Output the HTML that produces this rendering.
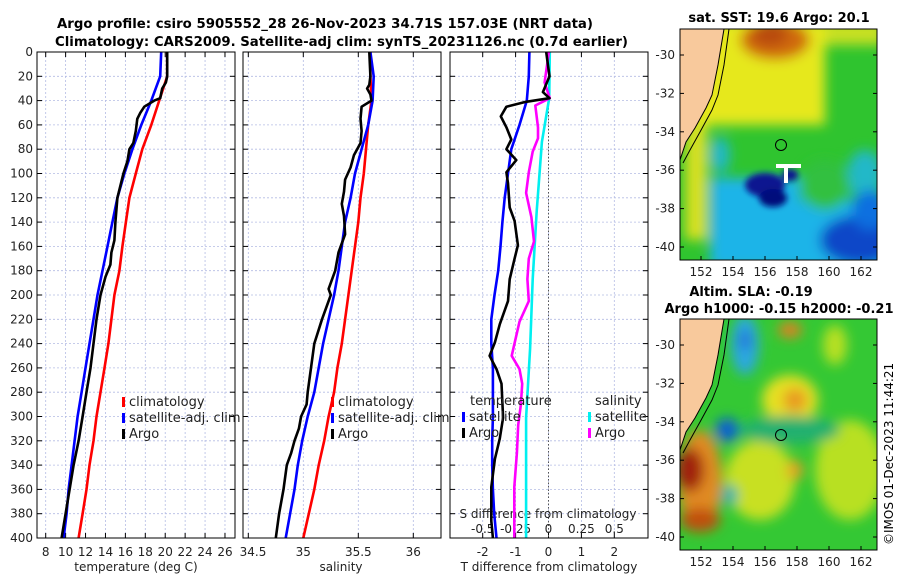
<!DOCTYPE html>
<html><head><meta charset="utf-8"><style>
html,body{margin:0;padding:0;background:#fff;}
svg{display:block;font-family:"DejaVu Sans","Liberation Sans",sans-serif;}
</style></head><body>
<svg id="fig" width="900" height="580" viewBox="0 0 900 580" xmlns="http://www.w3.org/2000/svg">
<defs>
<filter id="bl" x="-20%" y="-20%" width="140%" height="140%"><feGaussianBlur stdDeviation="6"/></filter>
<filter id="bl2" x="-20%" y="-20%" width="140%" height="140%"><feGaussianBlur stdDeviation="3"/></filter>
<clipPath id="cm1"><rect x="680" y="29" width="197" height="231"/></clipPath>
<clipPath id="cm2"><rect x="680" y="319" width="197" height="231"/></clipPath>
</defs>
<text x="57" y="28" font-size="13" font-weight="bold" textLength="536" lengthAdjust="spacingAndGlyphs">Argo profile: csiro 5905552_28 26-Nov-2023 34.71S 157.03E (NRT data)</text>
<text x="55" y="46" font-size="13" font-weight="bold" textLength="573" lengthAdjust="spacingAndGlyphs">Climatology: CARS2009. Satellite-adj clim: synTS_20231126.nc (0.7d earlier)</text>
<g id="panels"></g>

<!-- SST map -->
<g>
<text x="779" y="22" font-size="13" font-weight="bold" text-anchor="middle">sat. SST: 19.6 Argo: 20.1</text>
<g clip-path="url(#cm1)">
<rect x="680" y="29" width="197" height="231" fill="#2fc42f"/>
<g filter="url(#bl)">
<rect x="690" y="20" width="135" height="105" fill="#e6e81a"/>
<rect x="825" y="20" width="60" height="25" fill="#c8e020"/>
<ellipse cx="775" cy="40" rx="35" ry="20" fill="#d06a10"/>
<ellipse cx="770" cy="35" rx="18" ry="11" fill="#b84a08"/>
<rect x="685" y="125" width="22" height="115" fill="#d8e020"/>
<rect x="710" y="178" width="90" height="90" fill="#1ab4e8"/>
<rect x="800" y="200" width="90" height="70" fill="#1ab4e8"/>
<ellipse cx="865" cy="175" rx="18" ry="25" fill="#20b8c8"/>
<ellipse cx="860" cy="240" rx="40" ry="25" fill="#0a46c8"/>
<ellipse cx="870" cy="210" rx="18" ry="20" fill="#1070e0"/>
<ellipse cx="720" cy="155" rx="10" ry="18" fill="#20b8c8"/>
<ellipse cx="825" cy="185" rx="25" ry="25" fill="#30c040"/>
</g>
<g filter="url(#bl2)">
<ellipse cx="765" cy="185" rx="20" ry="12" fill="#081890"/>
<ellipse cx="773" cy="198" rx="14" ry="9" fill="#06107c"/>
<ellipse cx="790" cy="175" rx="8" ry="6" fill="#081890"/>
</g>
<rect x="776" y="164" width="25" height="4" fill="#fff"/>
<rect x="784" y="164" width="4" height="19" fill="#fff"/>
<polygon points="680,29 724,29 718,65 712,95 706,108 695,128 686,142 680,160" fill="#f8c99c"/>
<polyline points="724,29 718,65 712,95 706,108 695,128 686,142 680,160" fill="none" stroke="#000" stroke-width="1"/>
<polyline points="729,29 724,65 718,95 712,110 700,132 690,150 683,163" fill="none" stroke="#000" stroke-width="1"/>
<circle cx="781" cy="145" r="5.5" fill="none" stroke="#000" stroke-width="1"/>
</g>
<rect x="680" y="29" width="197" height="231" fill="none" stroke="#000"/>
<g id="m1ticks"></g>
</g>

<!-- SLA map -->
<g>
<text x="751" y="296" font-size="13" font-weight="bold" text-anchor="middle">Altim. SLA: -0.19</text>
<text x="779" y="313" font-size="13" font-weight="bold" text-anchor="middle">Argo h1000: -0.15 h2000: -0.21</text>
<g clip-path="url(#cm2)">
<rect x="680" y="319" width="197" height="231" fill="#34c834"/>
<g filter="url(#bl)">
<ellipse cx="790" cy="400" rx="28" ry="25" fill="#e6e020"/>
<ellipse cx="795" cy="400" rx="12" ry="12" fill="#e89a20"/>
<ellipse cx="850" cy="470" rx="35" ry="50" fill="#b8e020"/>
<ellipse cx="760" cy="480" rx="35" ry="40" fill="#c8e020"/>
<ellipse cx="700" cy="480" rx="22" ry="50" fill="#e08a20"/>
<ellipse cx="690" cy="470" rx="14" ry="22" fill="#a02010"/>
<ellipse cx="700" cy="520" rx="20" ry="12" fill="#c05010"/>
<ellipse cx="745" cy="345" rx="14" ry="30" fill="#2aa8e0"/>
<ellipse cx="745" cy="340" rx="6" ry="10" fill="#2070d8"/>
<ellipse cx="727" cy="430" rx="12" ry="12" fill="#1060d0"/>
<ellipse cx="730" cy="495" rx="8" ry="10" fill="#20b0b0"/>
<ellipse cx="790" cy="430" rx="50" ry="14" fill="#20b070"/>
<ellipse cx="790" cy="330" rx="12" ry="8" fill="#e08020"/>
<ellipse cx="835" cy="345" rx="12" ry="20" fill="#b8e020"/>
<ellipse cx="795" cy="470" rx="8" ry="10" fill="#e8a020"/>
</g>
<polygon points="680,319 724,319 718,355 712,385 706,398 695,418 686,432 680,450" fill="#f8c99c"/>
<polyline points="724,319 718,355 712,385 706,398 695,418 686,432 680,450" fill="none" stroke="#000" stroke-width="1"/>
<polyline points="729,319 724,355 718,385 712,400 700,422 690,440 683,453" fill="none" stroke="#000" stroke-width="1"/>
<circle cx="781" cy="435" r="5.5" fill="none" stroke="#000" stroke-width="1"/>
</g>
<rect x="680" y="319" width="197" height="231" fill="none" stroke="#000"/>
<g id="m2ticks"></g>
</g>
<text x="0" y="0" font-size="12" transform="translate(893,545) rotate(-90)">©IMOS 01-Dec-2023 11:44:21</text>
</svg>
<script>
// ---------- data ----------
const tempDepth = [0,20,40,60,80,100,120,140,160,180,200,220,240,260,280,300,320,340,360,380,400];
const tempClim  = [20.2,20.2,19.4,18.6,17.7,17.05,16.4,16.05,15.7,15.4,14.9,14.6,14.3,13.9,13.5,13.1,12.8,12.4,12.1,11.7,11.3];
const tempSat   = [19.6,19.5,18.6,17.6,16.7,15.9,15.2,14.7,14.2,13.7,13.2,12.8,12.4,12.0,11.6,11.2,10.9,10.6,10.3,10.1,9.8];
const argoTDepth = [0,20,25,30,38,40,45,50,55,65,75,80,90,100,110,120,140,155,165,175,185,200,220,240,260,280,300,320,340,360,380,400];
const argoTemp   = [20.2,20.2,20.07,19.7,19.5,18.9,17.9,17.5,17.2,17.05,16.8,16.4,16.2,15.8,15.5,15.2,15.0,14.9,14.6,14.5,14.0,13.5,13.1,12.8,12.5,12.1,11.7,11.3,10.8,10.4,10.0,9.6];

const salDepth = [0,20,40,60,80,100,120,140,160,180,200,220,240,260,280,300,320,340,360,380,400];
const salClim  = [35.61,35.61,35.62,35.59,35.57,35.55,35.52,35.50,35.47,35.44,35.41,35.38,35.35,35.31,35.28,35.23,35.19,35.14,35.10,35.05,35.00];
const salSat   = [35.61,35.64,35.63,35.59,35.53,35.47,35.43,35.38,35.35,35.32,35.28,35.23,35.18,35.14,35.10,35.04,34.99,34.95,34.92,34.88,34.84];
const argoSDepth = [0,20,27,30,35,40,45,55,65,75,85,95,105,115,125,135,150,165,180,195,200,220,240,260,280,290,300,310,320,330,340,360,380,400];
const argoSal    = [35.60,35.61,35.60,35.58,35.61,35.62,35.53,35.52,35.53,35.52,35.46,35.43,35.38,35.37,35.35,35.37,35.38,35.32,35.29,35.23,35.25,35.17,35.10,35.07,35.04,35.03,34.98,34.96,34.92,34.89,34.85,34.82,34.78,34.75];

const diffDepth = [0,20,40,60,80,100,120,140,160,180,200,220,240,260,280,300,320,340,360,380,400];
const satTDiff  = [-0.58,-0.6,-0.66,-0.88,-1.13,-1.23,-1.33,-1.40,-1.46,-1.53,-1.64,-1.74,-1.74,-1.69,-1.69,-1.69,-1.71,-1.71,-1.69,-1.65,-1.58];
const argoTDDepth = [0,20,33,38,41,45,53,62,72,80,89,99,108,128,139,159,170,187,205,224,239,250,261,273,301,318,335,358,386,400];
const argoTDiff   = [-0.07,0.03,-0.17,0.03,-0.68,-1.28,-1.45,-1.28,-1.13,-1.28,-0.98,-1.28,-1.23,-1.18,-1.03,-0.93,-1.03,-1.18,-1.23,-1.48,-1.63,-1.79,-1.58,-1.43,-1.38,-1.48,-1.63,-1.74,-1.74,-1.69];
const satSDDepth = [0,38,74,131,187,244,301,358,400];
const satSDiff   = [0.01,0.005,-0.05,-0.09,-0.12,-0.14,-0.17,-0.17,-0.17];
const argoSDDepth = [0,25,38,44,62,71,82,99,116,136,156,170,187,205,222,236,250,261,273,290,307,330,358,400];
const argoSDiff   = [0.003,-0.03,0.01,-0.1,-0.08,-0.08,-0.12,-0.15,-0.17,-0.13,-0.11,-0.15,-0.16,-0.15,-0.22,-0.25,-0.28,-0.22,-0.20,-0.21,-0.23,-0.24,-0.26,-0.26];

const depthTicks = [0,20,40,60,80,100,120,140,160,180,200,220,240,260,280,300,320,340,360,380,400];
const tempTicks = [8,10,12,14,16,18,20,22,24,26];
const salTicks = [34.5,35,35.5,36];
const tdTicks = [-2,-1,0,1,2];
const sdTicks = [-0.5,-0.25,0,0.25,0.5];
const lonTicks = [152,154,156,158,160,162];
const latTicks = [-30,-32,-34,-36,-38,-40];

// ---------- drawing ----------
const NS='http://www.w3.org/2000/svg';
const root=document.getElementById('panels');
function mk(tag,attrs,parent){const e=document.createElementNS(NS,tag);for(const k in attrs)e.setAttribute(k,attrs[k]);(parent||root).appendChild(e);return e;}
const TOP=52,BOT=538;
const yD=d=>TOP+d*(BOT-TOP)/400;
const xT=t=>45.7+(t-8)*9.96;
const xS=s=>303.3+(s-35)*110;
const xTD=t=>548.5+t*32.9;
const xSD=s=>548.5+s*131.6;
const panels=[{l:37,r:235,name:'temperature-panel'},{l:243,r:441,name:'salinity-panel'},{l:450,r:648,name:'difference-panel'}];

function frame(p,vx){
  const g=mk('g',{});
  
  
  depthTicks.forEach(d=>{
    const ln=mk('line',{x1:p.l,x2:p.r,y1:yD(d),y2:yD(d),stroke:'#b4bce4','stroke-width':0.8,'stroke-dasharray':'2,2'},g);
    
    
    mk('line',{x1:p.l,x2:p.l+5,y1:yD(d),y2:yD(d),stroke:'#000'},g);
    mk('line',{x1:p.r-5,x2:p.r,y1:yD(d),y2:yD(d),stroke:'#000'},g);
  });
  vx.forEach(x=>{
    const ln=mk('line',{x1:x,x2:x,y1:TOP,y2:BOT,stroke:'#b4bce4','stroke-width':0.8,'stroke-dasharray':'2,2'},g);
    
    
    mk('line',{x1:x,x2:x,y1:BOT-5,y2:BOT,stroke:'#000'},g);
    mk('line',{x1:x,x2:x,y1:TOP,y2:TOP+5,stroke:'#000'},g);
  });
  return g;
}
function border(p){mk('rect',{x:p.l,y:TOP,width:p.r-p.l,height:BOT-TOP,fill:'none',stroke:'#000','stroke-width':1});}
function line(xs,ds,xf,color,name,w){
  const pts=xs.map((v,i)=>xf(v).toFixed(1)+','+yD(ds[i]).toFixed(1)).join(' ');
  const e=mk('polyline',{points:pts,fill:'none',stroke:color,'stroke-width':w||2.6,'stroke-linejoin':'round'});
  
  
}
function txt(x,y,s,attrs,name){const e=mk('text',Object.assign({x:x,y:y,'font-size':12,fill:'#222'},attrs||{}));e.textContent=s;return e;}

frame(panels[0],tempTicks.map(xT));
frame(panels[1],salTicks.map(xS));
frame(panels[2],tdTicks.map(xTD));
mk('line',{x1:xTD(0),x2:xTD(0),y1:TOP,y2:BOT,stroke:'#555','stroke-width':1,'stroke-dasharray':'1.5,2'});

depthTicks.forEach(d=>txt(33,yD(d)+4,String(d),{'text-anchor':'end'},'depth-tick-label'));
tempTicks.forEach(t=>txt(xT(t),556,String(t),{'text-anchor':'middle'},'temp-tick-label'));
salTicks.forEach(s=>txt(s===34.5?253:xS(s),556,String(s),{'text-anchor':'middle'},'salinity-tick-label'));
tdTicks.forEach(t=>txt(xTD(t),556,String(t),{'text-anchor':'middle'},'tdiff-tick-label'));
sdTicks.forEach(s=>txt(xSD(s),533,String(s),{'text-anchor':'middle'},'sdiff-tick-label'));
txt(136,571,'temperature (deg C)',{'text-anchor':'middle'},'temp-axis-title');
txt(341,571,'salinity',{'text-anchor':'middle'},'salinity-axis-title');
txt(549,571,'T difference from climatology',{'text-anchor':'middle'},'tdiff-axis-title');
txt(548,518,'S difference from climatology',{'text-anchor':'middle'},'sdiff-axis-title');

line(tempClim,tempDepth,xT,'#ff0000','temp-climatology-line');
line(tempSat,tempDepth,xT,'#0000ff','temp-satellite-line');
line(argoTemp,argoTDepth,xT,'#000','temp-argo-line');
line(salClim,salDepth,xS,'#ff0000','sal-climatology-line');
line(salSat,salDepth,xS,'#0000ff','sal-satellite-line');
line(argoSal,argoSDepth,xS,'#000','sal-argo-line');
line(satSDiff,satSDDepth,xSD,'#00f0f0','sdiff-satellite-line');
line(argoSDiff,argoSDDepth,xSD,'#ff00ff','sdiff-argo-line');
line(satTDiff,diffDepth,xTD,'#0000ff','tdiff-satellite-line');
line(argoTDiff,argoTDDepth,xTD,'#000','tdiff-argo-line');
panels.forEach(border);

function leg(x,y,color,label){
  const r=mk('rect',{x:x,y:y-9,width:3,height:10,fill:color});
  
  
  txt(x+7,y,label,{'font-size':13},'legend-entry');
}
leg(122,406,'#ff0000','climatology');leg(122,422,'#0000ff','satellite-adj. clim');leg(122,438,'#000','Argo');
leg(331,406,'#ff0000','climatology');leg(331,422,'#0000ff','satellite-adj. clim');leg(331,438,'#000','Argo');
txt(470,405,'temperature',{'font-size':13},'legend-temperature-heading');
leg(462,421,'#0000ff','satellite');leg(462,437,'#000','Argo');
txt(595,405,'salinity',{'font-size':13},'legend-salinity-heading');
leg(588,421,'#00f0f0','satellite');leg(588,437,'#ff00ff','Argo');

function mapTicks(gid,top,lat30){
  const g=document.getElementById(gid);
  lonTicks.forEach(l=>{const x=701+(l-152)*16;
    mk('line',{x1:x,x2:x,y1:top+231-4,y2:top+231,stroke:'#000'},g);
    const t=mk('text',{x:x,y:top+231+16,'font-size':12,'text-anchor':'middle',fill:'#222'},g);t.textContent=l;
    });
  latTicks.forEach(l=>{const y=lat30+(-30-l)*19.2;
    mk('line',{x1:680,x2:684,y1:y,y2:y,stroke:'#000'},g);
    mk('line',{x1:873,x2:877,y1:y,y2:y,stroke:'#000'},g);
    const t=mk('text',{x:675,y:y+4,'font-size':12,'text-anchor':'end',fill:'#222'},g);t.textContent=l;
    });
}
mapTicks('m1ticks',29,55);
mapTicks('m2ticks',319,345);
</script>
</body></html>
